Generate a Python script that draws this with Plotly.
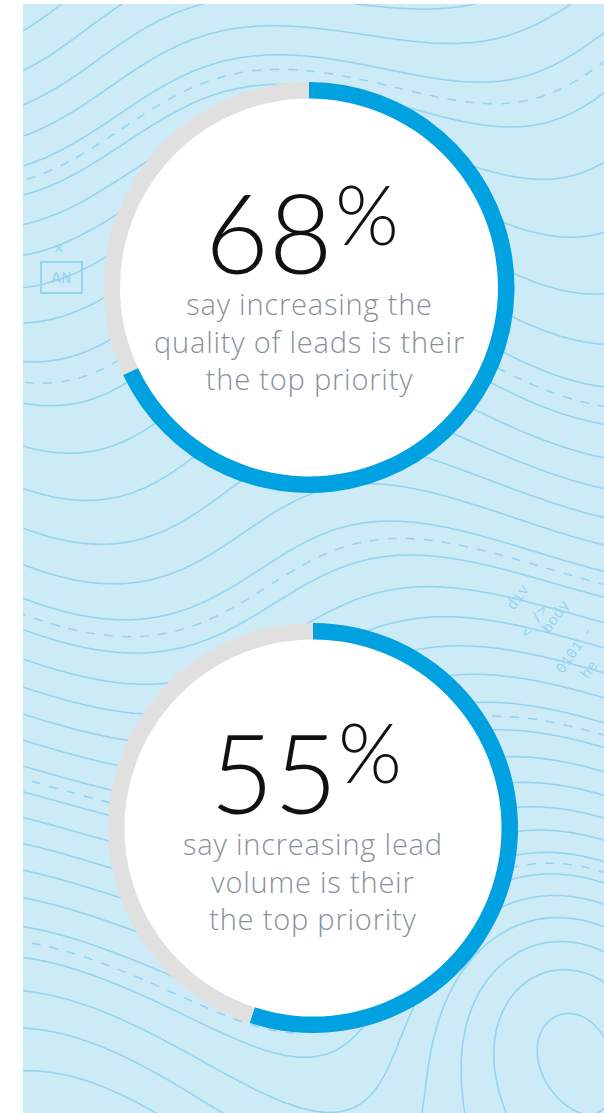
import numpy as np
import plotly.graph_objects as go

W, H = 604, 1113

# ---- data ----
labels = ["Yes", "Other"]
quality_values = [68, 32]
volume_values = [55, 45]
big_numbers = ["68", "55"]
caption_lines = [
    ["say increasing the", "quality of leads is their", "the top priority"],
    ["say increasing lead", "volume is their", "the top priority"],
]

BLUE = "#00A1E0"
GREY = "#E0E0E0"
PANEL = "#CDEBF7"
LINE = "#98D3EE"
CAPTION = "#87929B"

# donut geometry (pixels)
donuts = [
    dict(cx=309, cy=287.5, r=205.5, values=quality_values),
    dict(cx=313, cy=828, r=205, values=volume_values),
]
RING = 17

fig = go.Figure()

# ---- decorative topographic background ----
gx = np.arange(23, W + 4, 4.0)
gy = np.arange(4, H + 4, 4.0)
X, Y = np.meshgrid(gx, gy)
decor = (0.018 * Y + 0.9 * np.sin(X / 95 - Y / 210) + 0.7 * np.sin(Y / 130 + X / 400)
         + 3.0 * np.exp(-((X - 560) ** 2 + (Y - 1010) ** 2) / (2 * 110 ** 2))
         - 2.5 * np.exp(-((X - 40) ** 2 + (Y - 60) ** 2) / (2 * 160 ** 2)))
cs = [[0, LINE], [1, LINE]]
fig.add_trace(go.Contour(x=gx, y=gy, z=decor, contours=dict(coloring="lines", start=-3, end=30, size=0.7),
                         colorscale=cs, showscale=False, line=dict(width=1.6), hoverinfo="skip"))
fig.add_trace(go.Contour(x=gx, y=gy, z=decor, contours=dict(coloring="lines", start=-2.65, end=30, size=4.2),
                         colorscale=cs, showscale=False, line=dict(width=1.6, dash="dash"), hoverinfo="skip"))

shapes = [dict(type="rect", xref="x", yref="y", x0=23, x1=W, y0=4, y1=H,
               fillcolor=PANEL, line=dict(width=0), layer="below")]

for d in donuts:
    cx, cy, r = d["cx"], d["cy"], d["r"]
    fig.add_trace(go.Pie(
        labels=labels, values=d["values"], sort=False, direction="clockwise", rotation=0,
        hole=(r - RING) / r, marker=dict(colors=[BLUE, GREY], line=dict(width=0)),
        textinfo="none", hoverinfo="skip", showlegend=False,
        domain=dict(x=[(cx - r) / W, (cx + r) / W], y=[1 - (cy + r) / H, 1 - (cy - r) / H]),
    ))
    ri = r - RING + 0.5
    shapes.append(dict(type="circle", xref="x", yref="y", x0=cx - ri, x1=cx + ri, y0=cy - ri, y1=cy + ri,
                       fillcolor="white", line=dict(width=0), layer="above"))

# AN box decoration
shapes.append(dict(type="rect", xref="x", yref="y", x0=41, x1=82, y0=262, y1=293,
                   fillcolor="rgba(0,0,0,0)", line=dict(color=LINE, width=2), layer="below"))

num_font = dict(family="Lato", size=110, color="#111111", weight=300)
pct_font = dict(family="Lato", size=82, color="#111111", weight=300)
cap_font = dict(family="Open Sans", size=29, color=CAPTION, weight=300)


def spaced(lines):
    return "<br>".join("<span style='letter-spacing:0.8px'>%s</span>" % t for t in lines)


ann = []
# donut 1 text
ann.append(dict(x=268.5, y=231, text=big_numbers[0], font=num_font, height=94, valign="middle"))
ann.append(dict(x=367, y=213, text="%", font=pct_font))
ann.append(dict(x=309, y=341.4, text=spaced(caption_lines[0]), font=cap_font))
# donut 2 text
ann.append(dict(x=273.5, y=771, text=big_numbers[1], font=num_font, height=94, valign="middle"))
ann.append(dict(x=370, y=751, text="%", font=pct_font))
ann.append(dict(x=313, y=881.4, text=spaced(caption_lines[1]), font=cap_font))

# code-like decorations
mono = dict(family="Liberation Mono", size=15, color=LINE)
ann.append(dict(x=61, y=278, text="AN", font=dict(family="Liberation Mono", size=17, color=LINE)))
ann.append(dict(x=59, y=250, text="×", font=dict(family="Liberation Mono", size=16, color=LINE)))
for t, x, y in [("div", 518, 598), ("&lt; /&gt;", 535, 622), ("body", 556, 617), ("0101 -", 575, 650), ("he", 590, 670)]:
    ann.append(dict(x=x, y=y, text=t, font=mono, textangle=-55))

for a in ann:
    a.update(xref="x", yref="y", showarrow=False, xanchor="center", yanchor="middle")

fig.update_layout(
    width=W, height=H, margin=dict(l=0, r=0, t=0, b=0),
    paper_bgcolor="white", plot_bgcolor="rgba(0,0,0,0)", showlegend=False,
    xaxis=dict(range=[0, W], visible=False, fixedrange=True),
    yaxis=dict(range=[H, 0], visible=False, fixedrange=True),
    shapes=shapes, annotations=ann,
)

fig.write_html("out.html")
